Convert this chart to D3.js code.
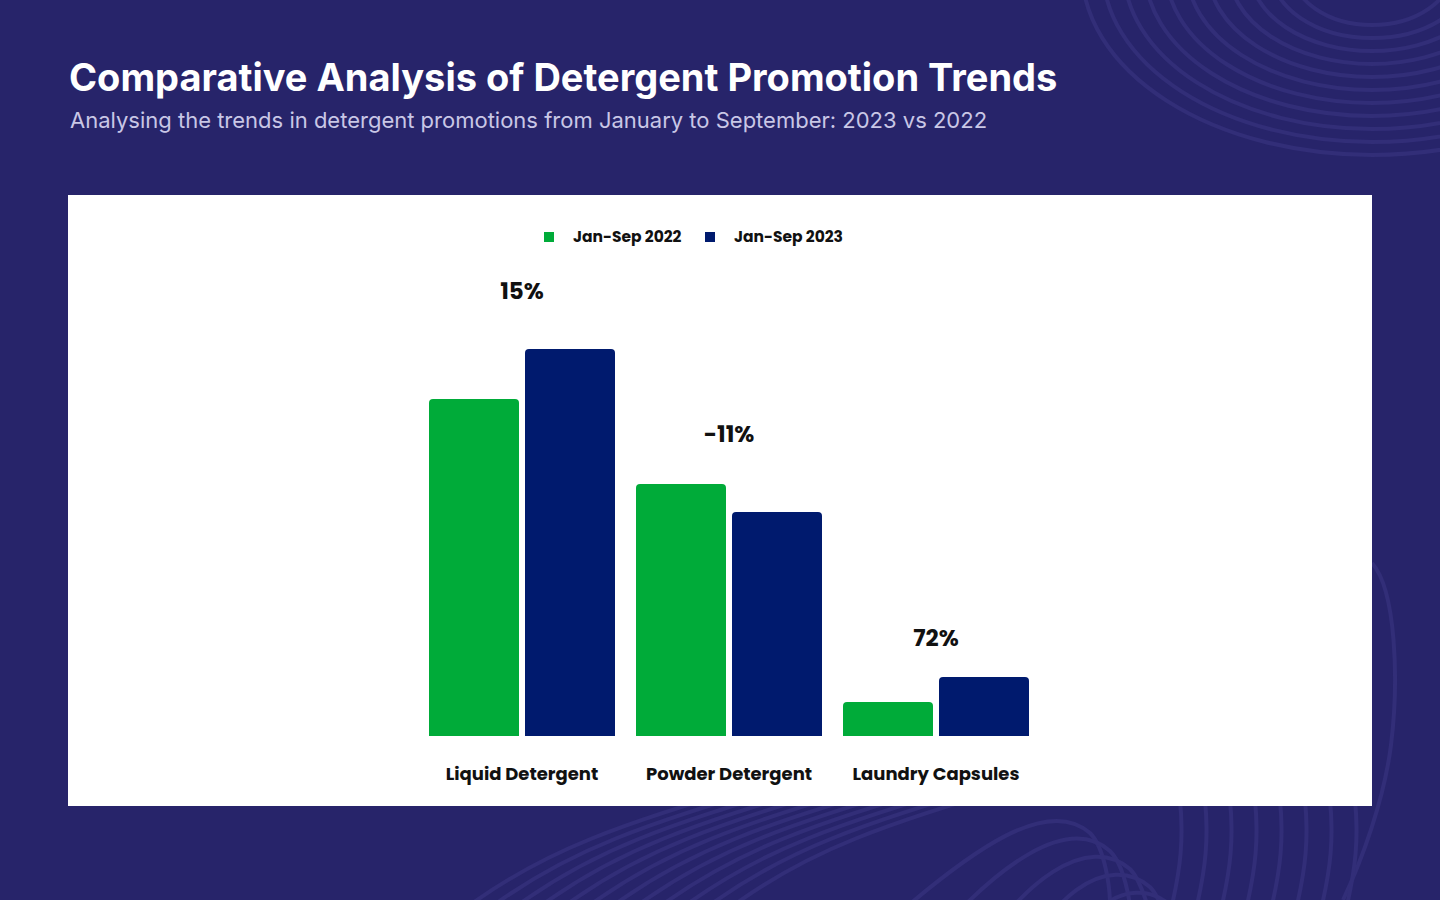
<!DOCTYPE html>
<html>
<head>
<meta charset="utf-8">
<script src="https://cdn.jsdelivr.net/npm/d3@7"></script>
<style>
  html, body { margin: 0; padding: 0; background: #27246a; }
  svg { display: block; }
</style>
</head>
<body>
<svg id="chart" width="1440" height="900"></svg>
<script>
// ---- data ----
const categories = ["Liquid Detergent", "Powder Detergent", "Laundry Capsules"];
const seriesNames = ["Jan-Sep 2022", "Jan-Sep 2023"];
const values2022 = [337, 252, 34];
const values2023 = [387, 224, 59];
const changeLabels = ["15%", "-11%", "72%"];
const seriesColors = ["#00ab39", "#001a6e"];

const titleText = "Comparative Analysis of Detergent Promotion Trends";
const subtitleText = "Analysing the trends in detergent promotions from January to September: 2023 vs 2022";

const svg = d3.select("#chart");
const W = 1440, H = 900;

// ---- background ----
svg.append("rect").attr("width", W).attr("height", H).attr("fill", "#27246a");
const deco = svg.append("g").attr("fill", "none").attr("stroke", "#322e78").attr("stroke-width", 4);

// top-right concentric arcs
d3.range(11).forEach(i => {
  const rx = 290 - i * 21, ry = 185 - i * 13;
  deco.append("ellipse").attr("cx", 1372).attr("cy", -30).attr("rx", rx).attr("ry", ry);
});
// right side curve
deco.append("path").attr("d", "M1372,563 C1396,590 1399,680 1391,745 C1384,800 1362,860 1343,900");
// bottom diagonal contour lines
d3.range(12).forEach(i => {
  const x0 = 470 + i * 24;
  deco.append("path").attr("d",
    `M${x0},905 C${x0 + 90},840 ${x0 + 170},820 ${x0 + 330},770`);
});
// bottom bumps
d3.range(5).forEach(i => {
  const cx = 1060 + i * 20, top = 828 + i * 18;
  deco.append("path").attr("d",
    `M${cx - 200 + i * 30},${top + 120} C${cx - 80},${top + 10} ${cx - 10},${top - 30} ${cx + 30},${top + 5} C${cx + 45},${top + 20} ${cx + 50},${top + 60} ${cx + 50},${905}`);
});
// near-vertical lines bottom right
d3.range(8).forEach(i => {
  const x0 = 1170 + i * 25;
  deco.append("path").attr("d", `M${x0 + 10},800 C${x0 + 14},840 ${x0 + 10},870 ${x0 + 2},905`);
});

// ---- titles ----
svg.append("text").attr("x", 69).attr("y", 91)
  .attr("fill", "#ffffff").attr("font-family", "Inter, 'Open Sans', sans-serif")
  .attr("font-weight", 700).attr("font-size", 38).text(titleText);
svg.append("text").attr("x", 70).attr("y", 128)
  .attr("fill", "#c9c7e6").attr("font-family", "Inter, 'Open Sans', sans-serif")
  .attr("font-weight", 400).attr("font-size", 22).text(subtitleText);

// ---- panel ----
svg.append("rect").attr("x", 68).attr("y", 195).attr("width", 1304).attr("height", 611).attr("fill", "#ffffff");

const labelFont = "Poppins, 'Open Sans', sans-serif";

// ---- scales ----
const x0 = d3.scaleBand().domain(categories).range([418.65, 1039.35]).paddingInner(21 / 207).paddingOuter(0.05);
const x1 = d3.scaleBand().domain(seriesNames).range([0, x0.bandwidth()]).paddingInner(6 / 96);
const y = d3.scaleLinear().domain([0, 400]).range([736, 336]);
const color = d3.scaleOrdinal().domain(seriesNames).range(seriesColors);

const rows = categories.map((c, i) => ({
  category: c,
  vals: [{ s: seriesNames[0], v: values2022[i] }, { s: seriesNames[1], v: values2023[i] }],
  label: changeLabels[i],
  max: Math.max(values2022[i], values2023[i])
}));

function topRounded(x, yTop, w, h, r) {
  r = Math.min(r, h, w / 2);
  return `M${x},${yTop + h} V${yTop + r} Q${x},${yTop} ${x + r},${yTop} H${x + w - r} Q${x + w},${yTop} ${x + w},${yTop + r} V${yTop + h} Z`;
}

const groups = svg.append("g").selectAll("g").data(rows).join("g")
  .attr("transform", d => `translate(${x0(d.category)},0)`);

groups.selectAll("path").data(d => d.vals).join("path")
  .attr("d", d => topRounded(x1(d.s), y(d.v), x1.bandwidth(), y(0) - y(d.v), 4))
  .attr("fill", d => color(d.s));

// change labels above bars
groups.append("text")
  .attr("x", x0.bandwidth() / 2)
  .attr("y", d => y(d.max) - (28 + 0.057 * (y(0) - y(d.max))))
  .attr("text-anchor", "middle")
  .attr("font-family", labelFont).attr("font-weight", 700).attr("font-size", 23)
  .attr("fill", "#111111")
  .text(d => d.label);

// category axis
const xAxis = svg.append("g").attr("transform", `translate(0,${y(0)})`)
  .call(d3.axisBottom(x0).tickSize(0).tickPadding(31));
xAxis.select(".domain").remove();
xAxis.selectAll("text")
  .attr("font-family", labelFont).attr("font-weight", 700).attr("font-size", 18)
  .attr("fill", "#111111");

// legend
const legend = svg.append("g");
const legendX = [544, 705];
seriesNames.forEach((s, i) => {
  legend.append("rect").attr("x", legendX[i]).attr("y", 232).attr("width", 10).attr("height", 10).attr("fill", color(s));
  legend.append("text").attr("x", legendX[i] + 29).attr("y", 242)
    .attr("font-family", labelFont).attr("font-weight", 700).attr("font-size", 15.5)
    .attr("fill", "#111111").text(s);
});
</script>
</body>
</html>
